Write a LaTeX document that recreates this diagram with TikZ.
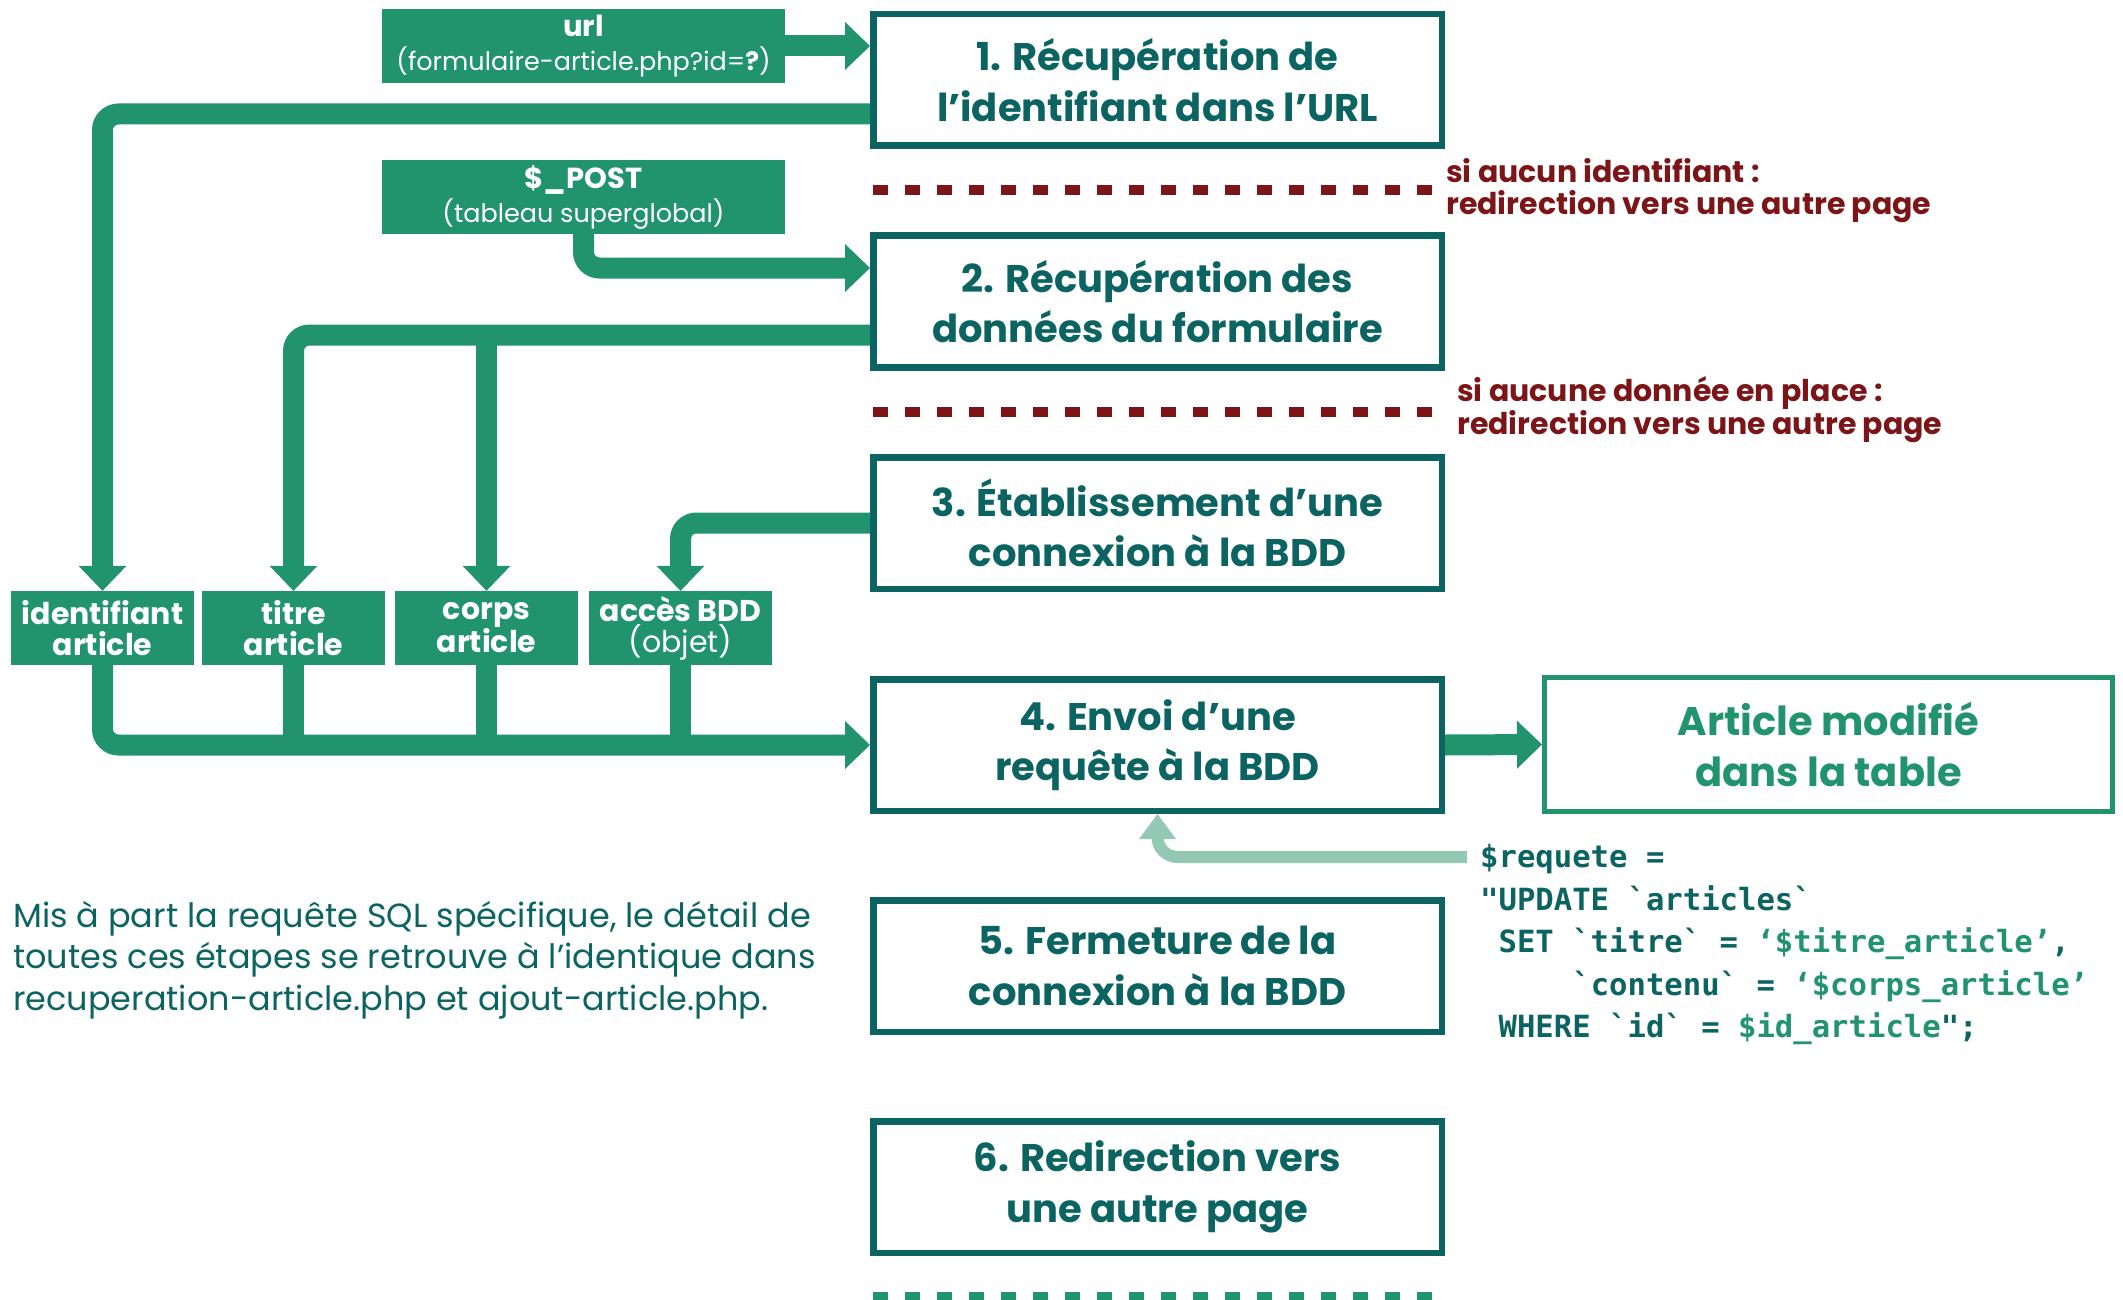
\documentclass[tikz,border=0pt]{standalone}
\usepackage{fontspec}
\setmainfont{Poppins}
\newfontfamily\codefont{DejaVu Sans Mono}
\usetikzlibrary{arrows.meta,calc}

\definecolor{stepcol}{RGB}{11,100,97}
\definecolor{flowgreen}{RGB}{33,148,109}
\definecolor{palegreen}{RGB}{147,200,180}
\definecolor{warnred}{RGB}{124,21,24}

\tikzset{
  stepbox/.style={draw=stepcol, line width=6.5pt, minimum width=568.5pt,
    minimum height=131.5pt, inner sep=0pt, text=stepcol, align=center,
    font=\bfseries\fontsize{38.5}{50.5}\selectfont},
  resultbox/.style={draw=flowgreen, line width=5pt, minimum width=568pt,
    minimum height=134pt, inner sep=0pt, text=flowgreen, align=center,
    font=\bfseries\fontsize{40}{50.5}\selectfont},
  tagbox/.style={fill=flowgreen, text=white, inner sep=0pt, align=center,
    minimum height=74pt},
  vartag/.style={tagbox, minimum width=183pt,
    font=\bfseries\fontsize{30}{31}\selectfont},
  srctag/.style={tagbox, minimum width=403pt,
    font=\fontsize{25.5}{34}\selectfont},
  conn/.style={draw=flowgreen, line width=21pt, rounded corners=16pt,
    -{Triangle[width=48pt,length=25pt,line width=0pt]}},
  plainconn/.style={draw=flowgreen, line width=21pt},
  lightconn/.style={draw=palegreen, line width=12pt, rounded corners=20pt,
    -{Triangle[width=37pt,length=25pt,line width=0pt]}},
  stopline/.style={draw=warnred, line width=10pt, dash pattern=on 15pt off 17pt},
  endline/.style={draw=flowgreen, line width=10pt, dash pattern=on 15pt off 17pt},
  warntext/.style={text=warnred, anchor=west, align=left, inner sep=0pt,
    font=\bfseries\fontsize{30}{32}\selectfont},
  codeline/.style={anchor=base west, inner sep=0pt, text=stepcol,
    font=\codefont\bfseries\fontsize{30.6}{42}\selectfont},
}

\newcommand{\bq}{\char"60\relax}
\newcommand{\hl}[1]{\textcolor{flowgreen}{#1}}

\begin{document}
\begin{tikzpicture}[x=1pt,y=-1pt]
\useasboundingbox (0,0) rectangle (2123,1300);

% main steps
\node[stepbox] (s1) at (1157.5,80)    {1. Récupération de\\l’identifiant dans l’URL};
\node[stepbox] (s2) at (1157.5,301.5) {2. Récupération des\\données du formulaire};
\node[stepbox] (s3) at (1157.5,523)   {3. Établissement d’une\\connexion à la BDD};
\node[stepbox] (s4) at (1157.5,745)   {4. Envoi d’une\\requête à la BDD};
\node[stepbox] (s5) at (1157.5,966)   {5. Fermeture de la\\connexion à la BDD};
\node[stepbox] (s6) at (1157.5,1187)  {6. Redirection vers\\une autre page};

\node[resultbox] (res) at (1828.5,744.5) {Article modifié\\dans la table};

% sources
\node[srctag] (url) at (583.5,46)
  {{\bfseries\fontsize{29}{34}\selectfont url}\\(formulaire-article.php?id=\textbf{?})};
\node[srctag] (post) at (583.5,197)
  {{\bfseries\fontsize{29}{34}\selectfont \$\_POST}\\(tableau superglobal)};

% variables
\node[vartag] (ident) at (102.5,628) {identifiant\\article};
\node[vartag] (titre) at (293.5,628) {titre\\article};
\node[vartag] (corps) at (486.5,628) {corps\\article};
\node[vartag] (acces) at (680.5,628) {accès BDD\\{\mdseries (objet)}};

% exits
\draw[stopline] (873,190) -- (1435,190);
\draw[stopline] (873,412) -- (1435,412);
\draw[endline] (873,1297) -- (1435,1297);
\node[warntext] (w1) at (1446,191) {si aucun identifiant :\\redirection vers une autre page};
\node[warntext] (w2) at (1457,410) {si aucune donnée en place :\\redirection vers une autre page};

% flows
\draw[conn] (url.east) -- (url.east -| s1.west);
\draw[conn] (s1.west |- 0,114) -| (ident.north);
\draw[conn] (post.south) |- (s2.west |- 0,268);
\draw[conn] (s2.west |- 0,335) -| (titre.north);
\draw[conn] (corps.north |- 0,335) -- (corps.north);
\draw[conn] (s3.west) -| (acces.north);

\draw[conn] (ident.south) |- (s4.west);
\draw[plainconn] (titre.south) -- (titre.south |- s4.west);
\draw[plainconn] (corps.south) -- (corps.south |- s4.west);
\draw[plainconn] (acces.south) -- (acces.south |- s4.west);

\draw[conn] (s4.east) -- (res.west);

% query
\coordinate (qstart) at (1467,857);
\draw[lightconn] (qstart) -| (s4.south);

\node[codeline] (c1) at (1480,867)  {\$requete =};
\node[codeline] (c2) at (1480,910)  {"UPDATE \bq articles\bq};
\node[codeline] (c3) at (1480,952)  {\phantom{x}SET \bq titre\bq{} = \hl{‘\$titre\_article’},};
\node[codeline] (c4) at (1480,995)  {\phantom{xxxxx}\bq contenu\bq{} = \hl{‘\$corps\_article’}};
\node[codeline] (c5) at (1480,1037) {\phantom{x}WHERE \bq id\bq{} = \hl{\$id\_article}";};

% note
\node[anchor=west, align=left, inner sep=0pt, text=stepcol,
  font=\fontsize{33.5}{41.5}\selectfont] (note) at (13,960)
  {Mis à part la requête SQL spécifique, le détail de\\
   toutes ces étapes se retrouve à l’identique dans\\
   recuperation-article.php et ajout-article.php.};
\end{tikzpicture}
\end{document}
